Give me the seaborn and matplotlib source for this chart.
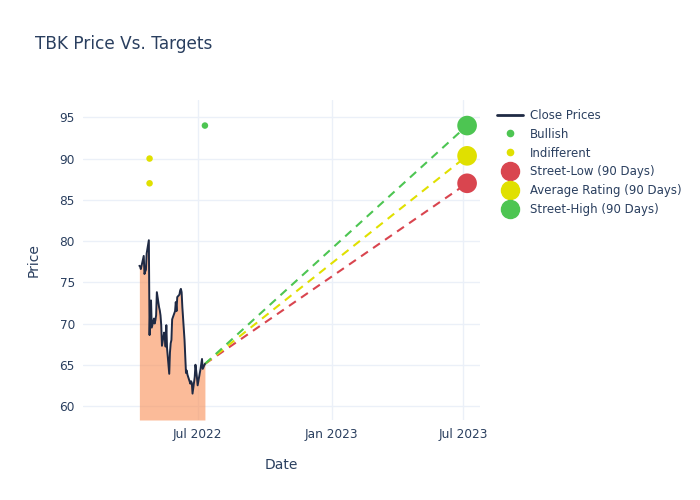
import numpy as np
import pandas as pd
import matplotlib
matplotlib.use("Agg")
import matplotlib.pyplot as plt
import matplotlib.dates as mdates
from matplotlib.lines import Line2D
import seaborn as sns

# ---- data ----
close_prices = [77.0, 76.9, 76.6, 78.2, 76.0, 76.3, 76.5, 78.5, 80.1, 68.6,
                72.5, 72.8, 69.5, 70.6, 70.0, 70.4, 71.0, 73.8, 72.0, 71.6,
                71.0, 69.8, 67.3, 68.9, 68.5, 67.2, 69.8, 67.0, 63.9, 66.5,
                67.6, 68.0, 70.5, 71.5, 72.6, 71.5, 73.2, 73.5, 74.0, 74.2,
                73.8, 72.0, 68.0, 66.0, 64.0, 64.3, 63.8, 62.7, 63.0, 62.8,
                61.5, 63.5, 65.0, 64.3, 63.5, 62.5, 64.5, 65.1, 65.7, 64.5, 65.1]
close_start = "2022-04-12"
market_holidays = ["2022-04-15", "2022-05-30", "2022-06-20", "2022-07-04"]
bullish_dates = ["2022-07-11"]
bullish_values = [94.0]
indifferent_dates = ["2022-04-26", "2022-04-26"]
indifferent_values = [90.0, 87.0]
target_date = "2023-07-06"
target_names = ["Street-Low (90 Days)", "Average Rating (90 Days)", "Street-High (90 Days)"]
target_values = [87.0, 90.33, 94.0]
target_colors = ["#d9454f", "#e0e000", "#4dc552"]

dates = pd.bdate_range(close_start, periods=len(close_prices), freq="C",
                       holidays=market_holidays)
df = pd.DataFrame({"Date": dates, "Price": close_prices})
bull = pd.DataFrame({"Date": pd.to_datetime(bullish_dates), "Price": bullish_values})
indiff = pd.DataFrame({"Date": pd.to_datetime(indifferent_dates), "Price": indifferent_values})
tgt = pd.DataFrame({"Date": pd.to_datetime([target_date] * 3), "Price": target_values,
                    "Name": target_names})

sns.set_style("white")
plt.rcParams["font.family"] = ["DejaVu Sans"]
text_color = "#2a3f5f"
grid_color = "#ebf0f8"

fig = plt.figure(figsize=(7, 5), dpi=100)
ax = fig.add_axes([0.119, 0.16, 0.567, 0.64])

ymin, ymax = 58.3, 97.1
ax.fill_between(df["Date"], df["Price"], ymin, color="#f98b50", alpha=0.58, lw=0, zorder=1)
sns.lineplot(data=df, x="Date", y="Price", ax=ax, color="#1f2a44", lw=1.4, zorder=3)

last_date = df["Date"].iloc[-1]
last_price = df["Price"].iloc[-1]
for v, c in zip(target_values, target_colors):
    ax.plot([last_date, pd.Timestamp(target_date)], [last_price, v], ls=(0, (4, 3)),
            color=c, lw=1.5, zorder=2)

sns.scatterplot(data=bull, x="Date", y="Price", ax=ax, color="#4dc552", s=22,
                edgecolor="none", zorder=4)
sns.scatterplot(data=indiff, x="Date", y="Price", ax=ax, color="#e0e000", s=22,
                edgecolor="none", zorder=4)
sns.scatterplot(data=tgt, x="Date", y="Price", hue="Name", palette=target_colors,
                ax=ax, s=200, edgecolor="none", zorder=5, legend=False)

ax.set_ylim(ymin, ymax)
ax.set_xlim(pd.Timestamp("2022-01-25"), pd.Timestamp("2023-07-24"))
ax.set_yticks([60, 65, 70, 75, 80, 85, 90, 95])
ax.set_xticks(pd.to_datetime(["2022-07-01", "2023-01-01", "2023-07-01"]))
ax.set_xticklabels(["Jul 2022", "Jan 2023", "Jul 2023"])
ax.grid(True, color=grid_color, lw=1)
ax.set_axisbelow(True)
for s in ax.spines.values():
    s.set_visible(False)
ax.tick_params(axis="both", colors=text_color, labelsize=8.7, length=0, pad=6)
ax.set_xlabel("Date", color=text_color, fontsize=10, labelpad=12)
ax.set_ylabel("Price", color=text_color, fontsize=10, labelpad=14)

fig.text(35 / 700, 1 - 44 / 500, "TBK Price Vs. Targets", color=text_color,
         fontsize=12.2, va="center", ha="left")

handles = [
    Line2D([], [], color="#1f2a44", lw=2),
    Line2D([], [], marker="o", ls="", color="#4dc552", markersize=4.5),
    Line2D([], [], marker="o", ls="", color="#e0e000", markersize=4.5),
    Line2D([], [], marker="o", ls="", color=target_colors[0], markersize=13),
    Line2D([], [], marker="o", ls="", color=target_colors[1], markersize=13),
    Line2D([], [], marker="o", ls="", color=target_colors[2], markersize=13),
]
labels = ["Close Prices", "Bullish", "Indifferent"] + target_names
leg = fig.legend(handles, labels, loc="upper left", bbox_to_anchor=(492 / 700, 1 - 104 / 500),
                 frameon=False, fontsize=8.5, labelspacing=0.5, handlelength=2.2,
                 handletextpad=0.6, borderaxespad=0)
for t in leg.get_texts():
    t.set_color(text_color)

fig.savefig("out.png", dpi=100)
